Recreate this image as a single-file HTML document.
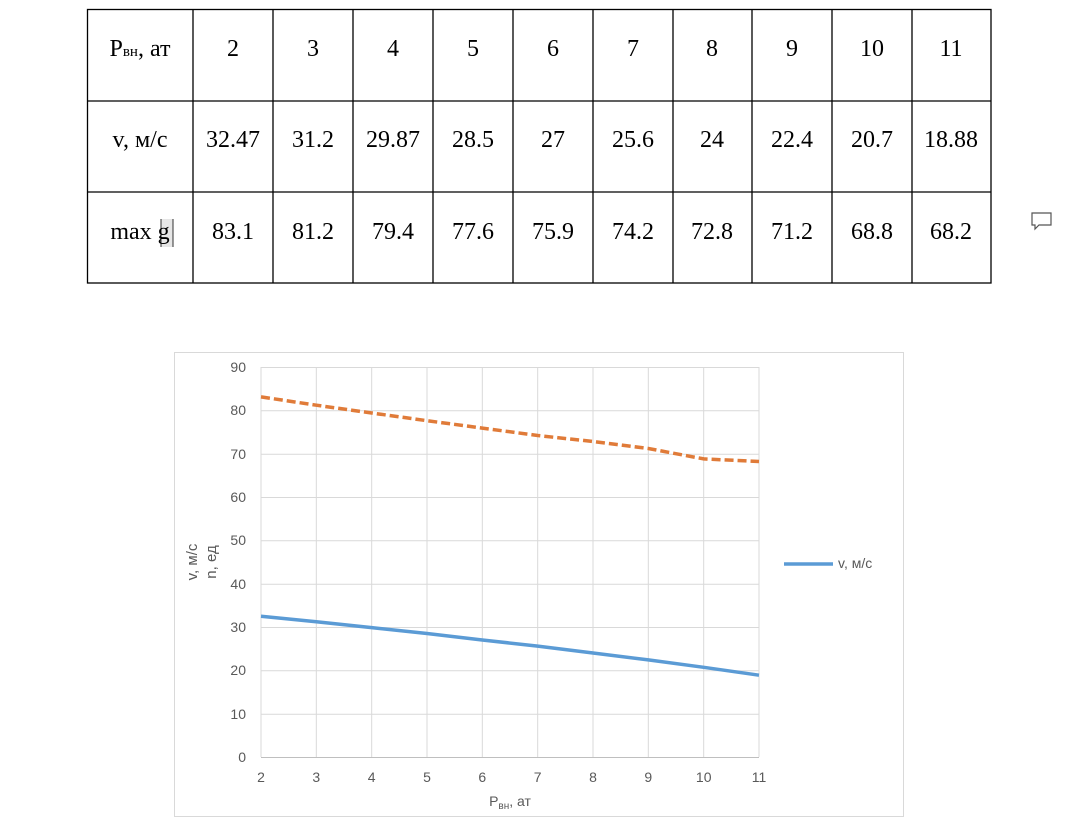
<!DOCTYPE html>
<html><head><meta charset="utf-8"><style>body{margin:0;background:#fff}</style></head><body>
<svg width="1080" height="827" xmlns="http://www.w3.org/2000/svg" style="display:block">
<g font-family="Liberation Serif, serif" font-size="24" fill="#000" text-anchor="middle">
<rect x="87.5" y="9.5" width="903.5" height="273.5" fill="none" stroke="#000" stroke-width="1.3"/>
<line x1="87" y1="101" x2="991" y2="101" stroke="#000" stroke-width="1.3"/>
<line x1="87" y1="192" x2="991" y2="192" stroke="#000" stroke-width="1.3"/>
<g stroke="#000" stroke-width="1.3">
<line x1="193" y1="9" x2="193" y2="283"/><line x1="273" y1="9" x2="273" y2="283"/><line x1="353" y1="9" x2="353" y2="283"/><line x1="433" y1="9" x2="433" y2="283"/><line x1="513" y1="9" x2="513" y2="283"/><line x1="593" y1="9" x2="593" y2="283"/><line x1="673" y1="9" x2="673" y2="283"/><line x1="752" y1="9" x2="752" y2="283"/><line x1="832" y1="9" x2="832" y2="283"/><line x1="912" y1="9" x2="912" y2="283"/>
</g>
<text x="140" y="56">P<tspan font-size="15">вн</tspan>, ат</text>
<text x="233" y="56">2</text><text x="313" y="56">3</text><text x="393" y="56">4</text><text x="473" y="56">5</text><text x="553" y="56">6</text><text x="633" y="56">7</text><text x="712" y="56">8</text><text x="792" y="56">9</text><text x="872" y="56">10</text><text x="951" y="56">11</text>
<text x="140" y="147">v, м/с</text>
<text x="233" y="147">32.47</text><text x="313" y="147">31.2</text><text x="393" y="147">29.87</text><text x="473" y="147">28.5</text><text x="553" y="147">27</text><text x="633" y="147">25.6</text><text x="712" y="147">24</text><text x="792" y="147">22.4</text><text x="872" y="147">20.7</text><text x="951" y="147">18.88</text>
<rect x="161" y="219" width="12" height="28" fill="#e6e6e6"/>
<line x1="161" y1="219" x2="161" y2="247" stroke="#333" stroke-width="1"/>
<line x1="173" y1="219" x2="173" y2="247" stroke="#333" stroke-width="1"/>
<text x="140" y="239">max g</text>
<text x="233" y="239">83.1</text><text x="313" y="239">81.2</text><text x="393" y="239">79.4</text><text x="473" y="239">77.6</text><text x="553" y="239">75.9</text><text x="633" y="239">74.2</text><text x="712" y="239">72.8</text><text x="792" y="239">71.2</text><text x="872" y="239">68.8</text><text x="951" y="239">68.2</text>
</g>
<path d="M1032 213h19v12h-12l-4 4v-4h-3z" fill="none" stroke="#555" stroke-width="1.2"/>
<rect x="174.5" y="352.5" width="729" height="464" fill="#fff" stroke="#d9d9d9"/>
<g stroke="#d9d9d9" stroke-width="1">
<line x1="261" y1="367.5" x2="759" y2="367.5"/><line x1="261" y1="410.8" x2="759" y2="410.8"/><line x1="261" y1="454.2" x2="759" y2="454.2"/><line x1="261" y1="497.5" x2="759" y2="497.5"/><line x1="261" y1="540.8" x2="759" y2="540.8"/><line x1="261" y1="584.2" x2="759" y2="584.2"/><line x1="261" y1="627.5" x2="759" y2="627.5"/><line x1="261" y1="670.8" x2="759" y2="670.8"/><line x1="261" y1="714.2" x2="759" y2="714.2"/>
<line x1="316.3" y1="367" x2="316.3" y2="757"/><line x1="371.7" y1="367" x2="371.7" y2="757"/><line x1="427" y1="367" x2="427" y2="757"/><line x1="482.3" y1="367" x2="482.3" y2="757"/><line x1="537.7" y1="367" x2="537.7" y2="757"/><line x1="593" y1="367" x2="593" y2="757"/><line x1="648.3" y1="367" x2="648.3" y2="757"/><line x1="703.7" y1="367" x2="703.7" y2="757"/><line x1="759" y1="367" x2="759" y2="757"/>
<line x1="261" y1="367" x2="261" y2="757"/>
</g>
<line x1="261" y1="757.5" x2="759" y2="757.5" stroke="#bfbfbf"/>
<g font-family="Liberation Sans, sans-serif" font-size="14" fill="#595959" text-anchor="end">
<text x="246" y="372">90</text><text x="246" y="415">80</text><text x="246" y="459">70</text><text x="246" y="502">60</text><text x="246" y="545">50</text><text x="246" y="589">40</text><text x="246" y="632">30</text><text x="246" y="675">20</text><text x="246" y="719">10</text><text x="246" y="762">0</text>
</g>
<g font-family="Liberation Sans, sans-serif" font-size="14" fill="#595959" text-anchor="middle">
<text x="261" y="782">2</text><text x="316.3" y="782">3</text><text x="371.7" y="782">4</text><text x="427" y="782">5</text><text x="482.3" y="782">6</text><text x="537.7" y="782">7</text><text x="593" y="782">8</text><text x="648.3" y="782">9</text><text x="703.7" y="782">10</text><text x="759" y="782">11</text>
<text x="510" y="806">P<tspan font-size="10" dy="3">вн</tspan><tspan dy="-3">, ат</tspan></text>
<text transform="translate(197,562) rotate(-90)" font-size="15">v, м/с</text>
<text transform="translate(216,562) rotate(-90)" font-size="15">n, ед</text>
</g>
<polyline points="261,396.9 316.3,405.2 371.7,413 427,420.7 482.3,428.1 537.7,435.5 593,441.5 648.3,448.5 703.7,458.9 759,461.5" fill="none" stroke="#e07b39" stroke-width="3.5" stroke-dasharray="9,4"/>
<polyline points="261,616.3 316.3,621.8 371.7,627.6 427,633.5 482.3,640 537.7,646.1 593,653 648.3,659.9 703.7,667.3 759,675.2" fill="none" stroke="#5b9bd5" stroke-width="3.5"/>
<line x1="784" y1="564" x2="833" y2="564" stroke="#5b9bd5" stroke-width="3.5"/>
<text x="838" y="568" font-family="Liberation Sans, sans-serif" font-size="14" fill="#595959">v, м/с</text>
</svg>
</body></html>
